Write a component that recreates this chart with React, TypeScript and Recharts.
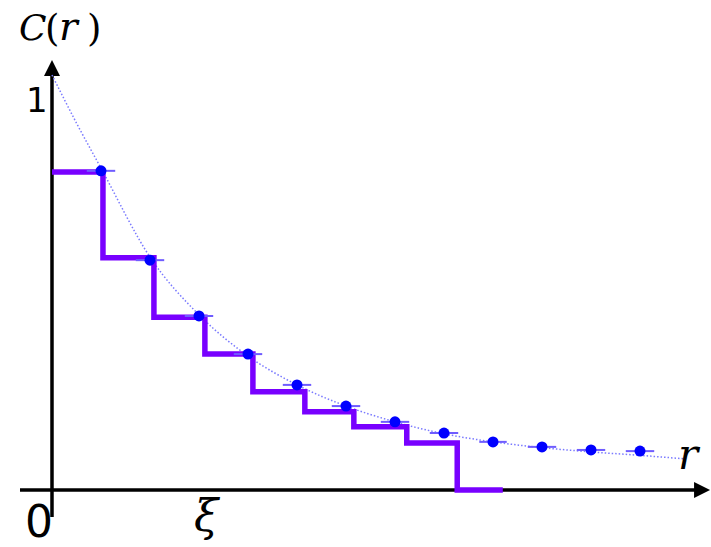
import React from 'react';
import { ComposedChart, Line, Scatter, ErrorBar, XAxis, YAxis, ReferenceLine } from 'recharts';

// Measured correlation points (r in lattice units, C(r))
const dotR = [1, 2, 3, 4, 5, 6, 7, 8, 9, 10, 11, 12];
const dotC = [0.829, 0.597, 0.452, 0.353, 0.273, 0.218, 0.177, 0.148, 0.125, 0.112, 0.104, 0.101];
const dotErr = [0.29, 0.29, 0.29, 0.29, 0.29, 0.29, 0.29, 0.29, 0.28, 0.29, 0.29, 0.29];

// Step function
const stepR = [0, 1.04, 2.08, 3.12, 4.1, 5.16, 6.16, 7.24, 8.27, 9.2];
const stepC = [0.826, 0.603, 0.449, 0.353, 0.255, 0.203, 0.164, 0.122, 0, 0];

// Dotted fit curve
const fitR = [0, 0.5, 1, 2, 3, 4, 5, 6, 7, 8, 9, 10, 11, 12, 12.9];
const fitC = [1.078, 0.953, 0.836, 0.605, 0.455, 0.348, 0.273, 0.218, 0.177, 0.146, 0.125, 0.11, 0.099, 0.09, 0.081];

const dotData = dotR.map((r, i) => ({ r, c: dotC[i], err: dotErr[i] }));
const stepData = stepR.map((r, i) => ({ r, s: stepC[i] }));
const fitData = fitR.map((r, i) => ({ r, f: fitC[i] }));

const Arrow = (props: any) => {
  const { x1, y1, x2, y2 } = props;
  const dx = x2 - x1;
  const dy = y2 - y1;
  const len = Math.hypot(dx, dy) || 1;
  const ux = dx / len;
  const uy = dy / len;
  const head = 16;
  const half = 8;
  const bx = x2 - ux * head;
  const by = y2 - uy * head;
  const px = -uy;
  const py = ux;
  return (
    <g>
      <line x1={x1} y1={y1} x2={bx + ux} y2={by + uy} stroke="#000" strokeWidth={3.5} />
      <polygon
        points={`${x2},${y2} ${bx + px * half},${by + py * half} ${bx - px * half},${by - py * half}`}
        fill="#000"
      />
    </g>
  );
};

const Dot = (props: any) => <circle cx={props.cx} cy={props.cy} r={5.5} fill="#0000ff" />;

export default function App() {
  return (
    <div style={{ position: 'absolute', left: 0, top: 0, width: 711, height: 547, background: '#fff' }}>
      <ComposedChart
        width={711}
        height={547}
        margin={{ top: 8.75, right: 0, bottom: 3.1, left: 3 }}
      >
        <XAxis type="number" dataKey="r" domain={[-1, 13.449]} hide allowDataOverflow />
        <YAxis type="number" domain={[-0.14, 1.25]} hide allowDataOverflow />
        <ReferenceLine segment={[{ x: -0.653, y: 0 }, { x: 13.43, y: 0 }]} shape={Arrow} ifOverflow="visible" />
        <ReferenceLine segment={[{ x: 0, y: -0.07 }, { x: 0, y: 1.117 }]} shape={Arrow} ifOverflow="visible" />
        <Line
          data={fitData}
          dataKey="f"
          type="monotone"
          stroke="#7a7aff"
          strokeWidth={1.5}
          strokeDasharray="1.5 2"
          dot={false}
          isAnimationActive={false}
        />
        <Line
          data={stepData}
          dataKey="s"
          type="stepAfter"
          stroke="#7800ff"
          strokeWidth={5.5}
          strokeLinejoin="miter"
          dot={false}
          isAnimationActive={false}
        />
        <Scatter data={dotData} dataKey="c" shape={Dot} isAnimationActive={false}>
          <ErrorBar dataKey="err" direction="x" width={0} stroke="#6f5cff" strokeWidth={2} />
        </Scatter>
      </ComposedChart>
      <svg
        width={711}
        height={547}
        style={{ position: 'absolute', left: 0, top: 0, pointerEvents: 'none' }}
      >
        <text x={19} y={40} fontFamily="DejaVu Serif" fontStyle="italic" fontSize={36} fill="#000">C</text>
        <text x={45} y={41} fontFamily="DejaVu Serif" fontSize={37} fill="#000">(</text>
        <text x={59} y={40} fontFamily="DejaVu Serif" fontStyle="italic" fontSize={39} fill="#000">r</text>
        <text x={87} y={41} fontFamily="DejaVu Serif" fontSize={37} fill="#000">)</text>
        <text x={26} y={112} fontFamily="DejaVu Sans" fontSize={34} fill="#000">1</text>
        <text x={25} y={537} fontFamily="DejaVu Sans" fontSize={44} fill="#000">0</text>
        <text x={194} y={531} fontFamily="DejaVu Serif" fontStyle="italic" fontSize={44} fill="#000">ξ</text>
        <text x={678} y={469} fontFamily="DejaVu Serif" fontStyle="italic" fontSize={42} fill="#000">r</text>
      </svg>
    </div>
  );
}
